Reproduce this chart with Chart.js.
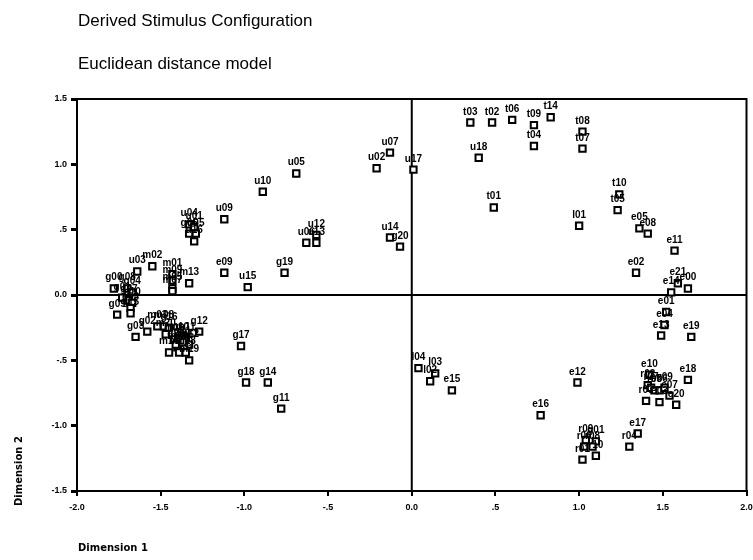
<!DOCTYPE html>
<html>
<head>
<meta charset="utf-8">
<script src="https://cdn.jsdelivr.net/npm/chart.js@4/dist/chart.umd.min.js"></script>
<style>
  body { margin: 0; background: #fff; }
</style>
</head>
<body>
<canvas id="myChart" width="753" height="560"></canvas>
<script>
// stimulus labels and their coordinates
const names = [
  "u07", "u02", "u17", "u05", "u10", "u09", "u12", "u06", "u13", "u14", "g20", "g19", "e09", "u15", "m13",
  "u04", "u01", "g06", "g05", "u16", "u03", "m02", "m01", "m09", "m05", "m07",
  "g00", "g08", "g04", "g01", "g07", "g10", "g13", "g15", "g09",
  "g03", "g02", "g12", "m03", "m08", "g16",
  "m06", "m10", "m11", "m12", "m14", "m15", "m16", "m17", "m18", "m19", "m20", "g21", "g22",
  "g17", "g18", "g14", "g11",
  "t03", "t02", "t06", "t09", "t14", "t08", "t07", "t04", "u18", "t01", "l01", "t10", "t05",
  "e05", "e08", "e11", "e02", "e21", "e00", "e14",
  "e01", "e04", "e13", "e19",
  "e10", "r02", "r07", "r05", "e06", "e09", "e07", "r03", "e03", "e20", "e18",
  "e17", "r04",
  "l02", "e15", "l03", "l04", "e12", "e16",
  "r09", "g01", "r06", "r08", "r01", "r10"
];
const dim1 = [
  -0.13, -0.21, 0.01, -0.69, -0.89, -1.12, -0.57, -0.63, -0.57, -0.13, -0.07, -0.76, -1.12, -0.98, -1.33,
  -1.33, -1.30, -1.33, -1.29, -1.30, -1.64, -1.55, -1.43, -1.43, -1.43, -1.43,
  -1.78, -1.70, -1.67, -1.73, -1.69, -1.67, -1.68, -1.68, -1.76,
  -1.65, -1.58, -1.27, -1.52, -1.48, -1.45,
  -1.42, -1.39, -1.35, -1.33, -1.40, -1.36, -1.45, -1.39, -1.35, -1.33, -1.47, -1.37, -1.41,
  -1.02, -0.99, -0.86, -0.78,
  0.35, 0.48, 0.60, 0.73, 0.83, 1.02, 1.02, 0.73, 0.40, 0.49, 1.00, 1.24, 1.23,
  1.36, 1.41, 1.57, 1.34, 1.59, 1.65, 1.55,
  1.52, 1.51, 1.49, 1.67,
  1.42, 1.41, 1.43, 1.45, 1.48, 1.51, 1.54, 1.40, 1.48, 1.58, 1.65,
  1.35, 1.30,
  0.11, 0.24, 0.14, 0.04, 0.99, 0.77,
  1.04, 1.10, 1.03, 1.08, 1.02, 1.10
];
const dim2 = [
  1.09, 0.97, 0.96, 0.93, 0.79, 0.58, 0.46, 0.40, 0.40, 0.44, 0.37, 0.17, 0.17, 0.06, 0.09,
  0.54, 0.52, 0.47, 0.47, 0.41, 0.18, 0.22, 0.16, 0.11, 0.05, 0.03,
  0.05, 0.05, 0.02, -0.02, -0.04, -0.06, -0.10, -0.14, -0.15,
  -0.32, -0.28, -0.28, -0.24, -0.24, -0.25,
  -0.34, -0.33, -0.33, -0.38, -0.40, -0.39, -0.44, -0.44, -0.44, -0.50, -0.30, -0.36, -0.38,
  -0.39, -0.67, -0.67, -0.87,
  1.32, 1.32, 1.34, 1.30, 1.36, 1.25, 1.12, 1.14, 1.05, 0.67, 0.53, 0.77, 0.65,
  0.51, 0.47, 0.34, 0.17, 0.09, 0.05, 0.02,
  -0.13, -0.23, -0.31, -0.32,
  -0.61, -0.69, -0.71, -0.73, -0.73, -0.71, -0.77, -0.81, -0.82, -0.84, -0.65,
  -1.06, -1.16,
  -0.66, -0.73, -0.60, -0.56, -0.67, -0.92,
  -1.11, -1.12, -1.16, -1.16, -1.26, -1.23
];
const xTickLabels = ["-2.0", "-1.5", "-1.0", "-.5", "0.0", ".5", "1.0", "1.5", "2.0"];
const yTickLabels = ["-1.5", "-1.0", "-.5", "0.0", ".5", "1.0", "1.5"];

const points = dim1.map((x, i) => ({ x: x, y: dim2[i] }));

// frame, zero lines, point labels and titles
const decorations = {
  id: "decorations",
  beforeDatasetsDraw(chart) {
    const ctx = chart.ctx;
    const a = chart.chartArea;
    const x0 = chart.scales.x.getPixelForValue(0);
    const y0 = chart.scales.y.getPixelForValue(0);
    ctx.save();
    ctx.strokeStyle = "#000";
    ctx.lineWidth = 2;
    ctx.strokeRect(a.left, a.top, a.right - a.left, a.bottom - a.top);
    ctx.beginPath();
    ctx.moveTo(x0, a.top);
    ctx.lineTo(x0, a.bottom);
    ctx.moveTo(a.left, y0);
    ctx.lineTo(a.right, y0);
    ctx.stroke();
    ctx.restore();
  },
  afterDatasetsDraw(chart) {
    const ctx = chart.ctx;
    const meta = chart.getDatasetMeta(0);
    ctx.save();
    ctx.fillStyle = "#000";
    ctx.font = "bold 10px 'Liberation Sans', Arial";
    ctx.textAlign = "center";
    ctx.textBaseline = "alphabetic";
    meta.data.forEach((pt, i) => {
      ctx.fillText(names[i], pt.x, pt.y - 8);
    });
    ctx.restore();
  },
  afterDraw(chart) {
    const ctx = chart.ctx;
    ctx.save();
    ctx.fillStyle = "#000";
    ctx.textBaseline = "middle";
    ctx.textAlign = "left";
    ctx.font = "17px 'Liberation Sans', Arial";
    ctx.fillText("Derived Stimulus Configuration", 78, 21);
    ctx.fillText("Euclidean distance model", 78, 64);
    ctx.font = "bold 10px 'DejaVu Sans'";
    ctx.fillText("Dimension 1", 78, 548);
    ctx.translate(19, 506);
    ctx.rotate(-Math.PI / 2);
    ctx.fillText("Dimension 2", 0, 0);
    ctx.restore();
  }
};

new Chart(document.getElementById("myChart"), {
  type: "scatter",
  data: {
    datasets: [{
      label: "Stimuli",
      data: points,
      pointStyle: "rect",
      pointRadius: 4.5,
      borderWidth: 2,
      borderColor: "#000",
      backgroundColor: "#fff"
    }]
  },
  options: {
    responsive: false,
    animation: false,
    devicePixelRatio: 1,
    layout: { padding: { top: 99, right: 0, left: 0, bottom: 0 } },
    plugins: {
      legend: { display: false },
      tooltip: { enabled: false }
    },
    scales: {
      x: {
        type: "linear",
        min: -2,
        max: 2,
        afterFit: (s) => { s.height = 69; s.paddingRight = 5; s.paddingLeft = 0; },
        ticks: {
          stepSize: 0.5,
          color: "#000",
          padding: 6,
          font: { family: "'Liberation Sans', Arial", size: 9, weight: "bold" },
          callback: (v, i) => xTickLabels[i]
        },
        grid: { drawOnChartArea: false, drawTicks: true, tickLength: 5, color: "#000", lineWidth: 2 },
        border: { display: true, color: "#000", width: 2 }
      },
      y: {
        type: "linear",
        min: -1.5,
        max: 1.5,
        afterFit: (s) => { s.width = 77; },
        ticks: {
          stepSize: 0.5,
          color: "#000",
          padding: 4,
          font: { family: "'Liberation Sans', Arial", size: 9, weight: "bold" },
          callback: (v, i) => yTickLabels[i]
        },
        grid: { drawOnChartArea: false, drawTicks: true, tickLength: 6, color: "#000", lineWidth: 3 },
        border: { display: true, color: "#000", width: 2 }
      }
    }
  },
  plugins: [decorations]
});
</script>
</body>
</html>
